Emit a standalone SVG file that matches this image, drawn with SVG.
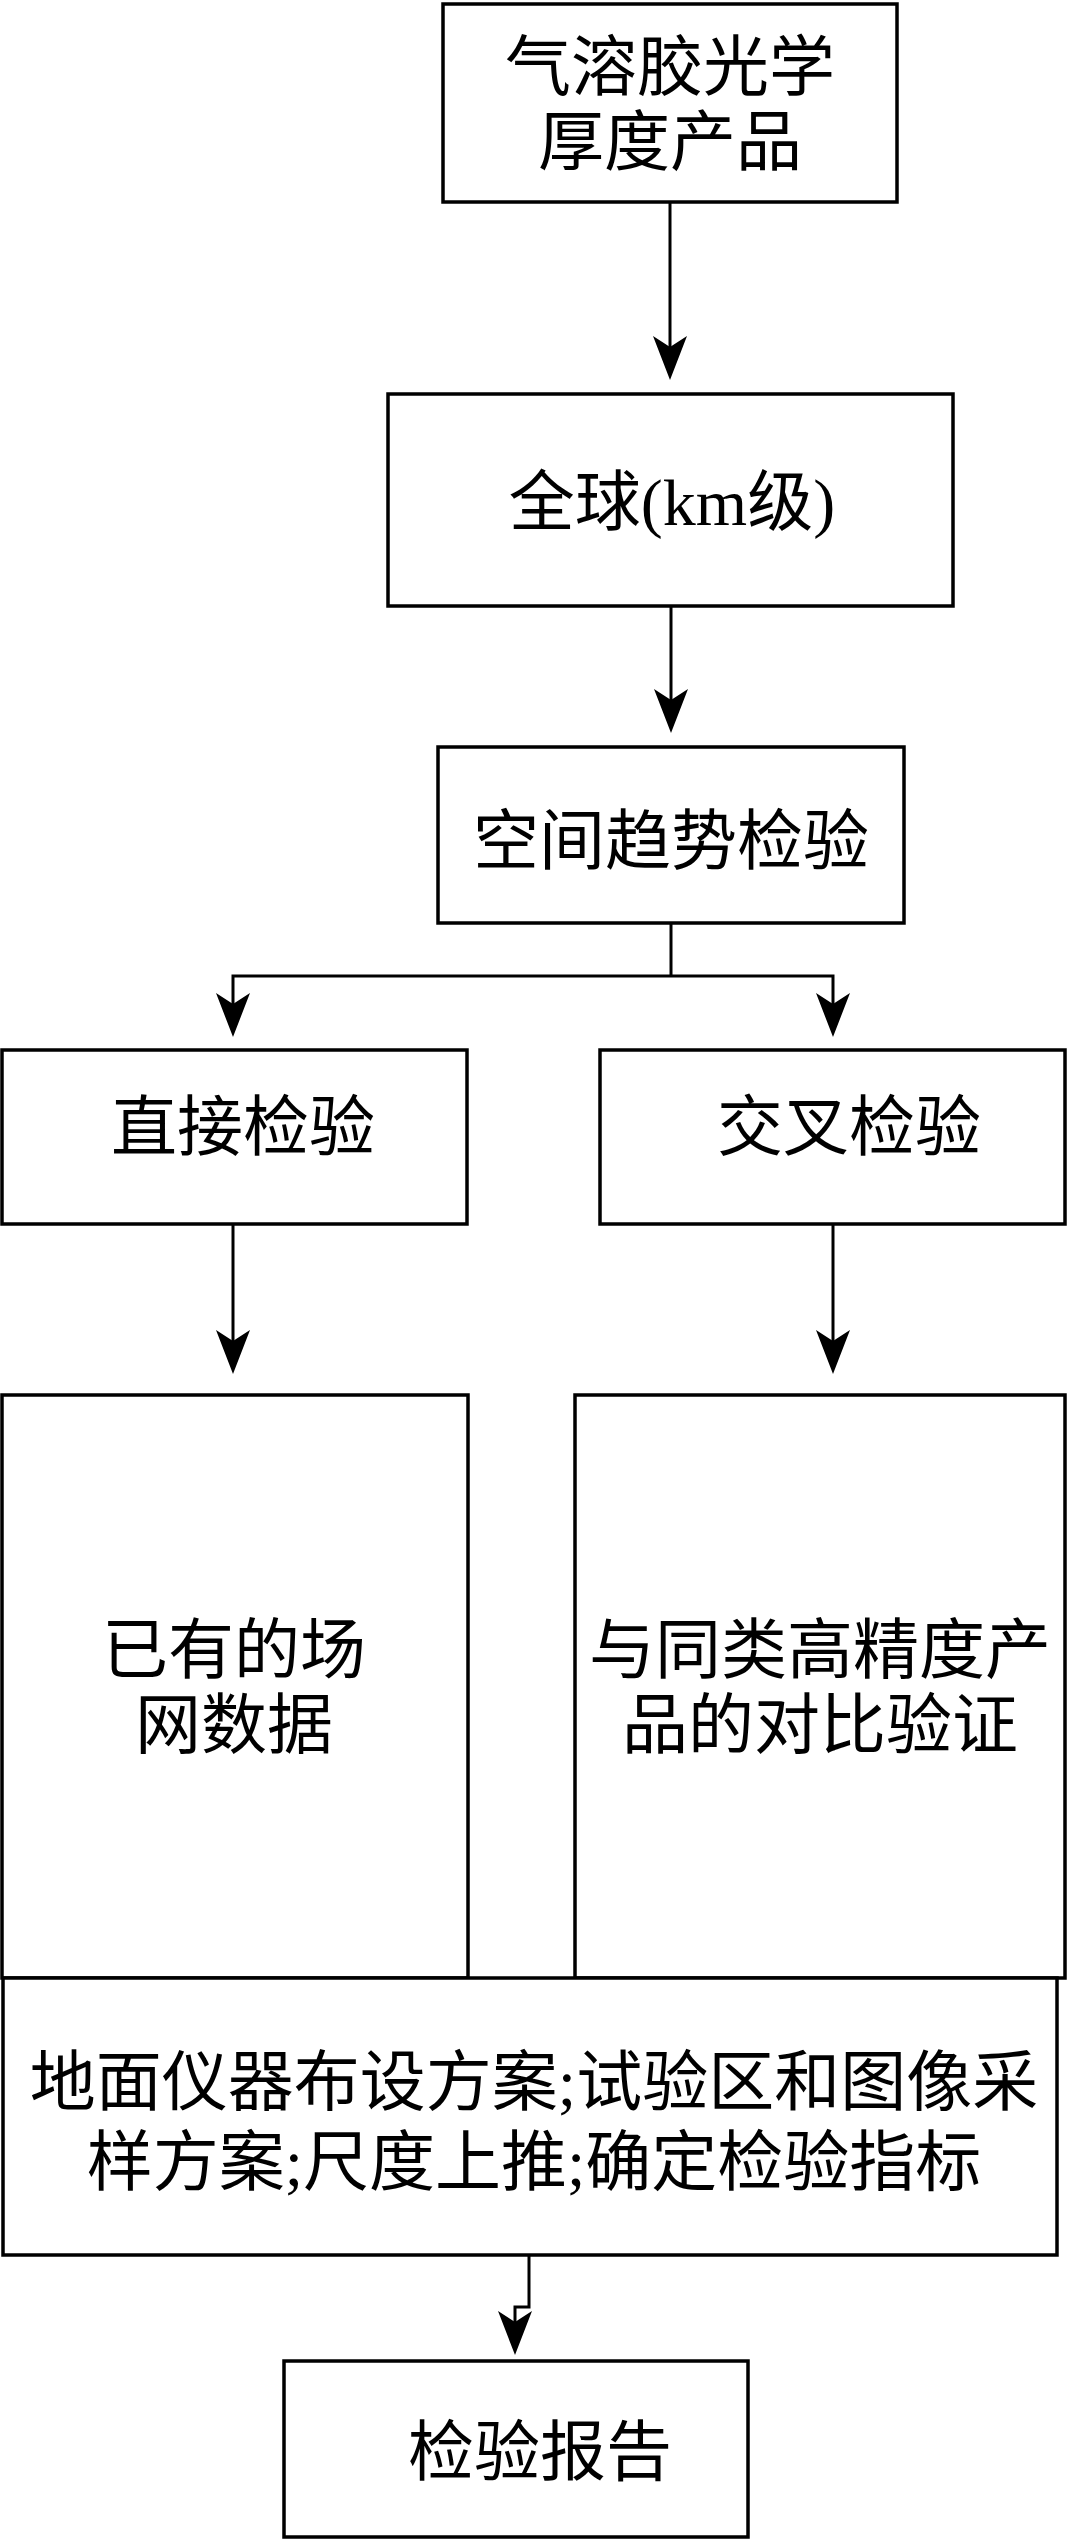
<svg xmlns="http://www.w3.org/2000/svg" width="1068" height="2539" viewBox="0 0 1068 2539">
<style>
.box{fill:#fff;stroke:#000;stroke-width:3.5}
.t{font-family:"Liberation Serif","Noto Sans CJK SC",serif;font-size:66px;fill:#000;text-anchor:middle}
.c{fill:none;stroke:#000;stroke-width:3}
</style>
<defs>
<marker id="ah" markerUnits="userSpaceOnUse" viewBox="-44 -17 44 34" markerWidth="44" markerHeight="34" refX="-33" refY="0" orient="auto">
<path d="M0,0 L-44,-17 L-33,0 L-44,17 Z" fill="#000"/>
</marker>
</defs>
<rect width="1068" height="2539" fill="#fff"/>
<g id="connectors">
<path class="c" d="M670,202 V347" marker-end="url(#ah)"/>
<path class="c" d="M671,606 V700" marker-end="url(#ah)"/>
<path class="c" d="M671,923 V976"/>
<path class="c" d="M671,976 H233 V1004" marker-end="url(#ah)"/>
<path class="c" d="M671,976 H833 V1004" marker-end="url(#ah)"/>
<path class="c" d="M233,1224 V1341" marker-end="url(#ah)"/>
<path class="c" d="M833,1224 V1341" marker-end="url(#ah)"/>
<path class="c" d="M529,2255 V2307 H515 V2322" marker-end="url(#ah)"/>
</g>
<g id="n1"><rect class="box" x="443" y="4" width="454" height="198"/><text class="t" x="670" y="90">气溶胶光学</text><text class="t" x="670" y="165">厚度产品</text></g>
<g id="n2"><rect class="box" x="388" y="394" width="565" height="212"/><text class="t" x="672" y="525">全球(km级)</text></g>
<g id="n3"><rect class="box" x="438" y="747" width="466" height="176"/><text class="t" x="671" y="864">空间趋势检验</text></g>
<g id="n4"><rect class="box" x="2" y="1050" width="465" height="174"/><text class="t" x="243" y="1150">直接检验</text></g>
<g id="n5"><rect class="box" x="600" y="1050" width="465" height="174"/><text class="t" x="849" y="1150">交叉检验</text></g>
<g id="n6"><rect class="box" x="2" y="1395" width="466" height="583"/><text class="t" x="234" y="1673">已有的场</text><text class="t" x="234" y="1748">网数据</text></g>
<g id="n7"><rect class="box" x="575" y="1395" width="490" height="583"/><text class="t" x="820" y="1673">与同类高精度产</text><text class="t" x="820" y="1748">品的对比验证</text></g>
<g id="n8"><rect class="box" x="3" y="1978" width="1054" height="277"/><text class="t" x="534" y="2105">地面仪器布设方案;试验区和图像采</text><text class="t" x="534" y="2185">样方案;尺度上推;确定检验指标</text></g>
<g id="n9"><rect class="box" x="284" y="2361" width="464" height="176"/><text class="t" x="540" y="2475">检验报告</text></g>
</svg>
